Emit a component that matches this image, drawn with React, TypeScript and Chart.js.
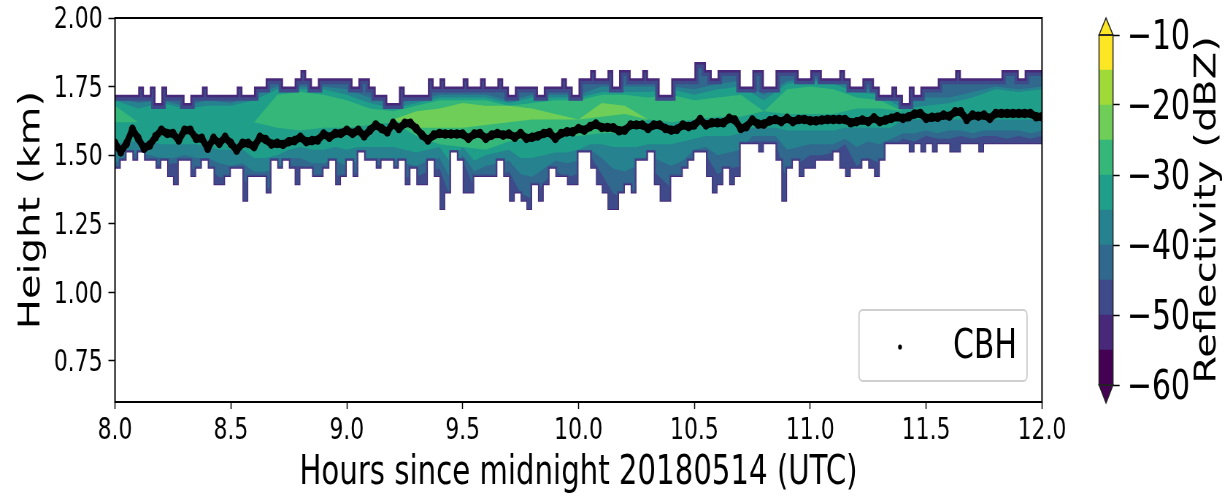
import React, { useEffect, useRef } from "react";
import { Chart, registerables } from "chart.js";

Chart.register(...registerables);

const SQUEEZE = 0.73;
const W = Math.round(1224 / SQUEEZE);
const H = 498;
const FONT = "'DejaVu Sans'";

const yTicks = [0.75, 1.0, 1.25, 1.5, 1.75, 2.0];
const xTicks = [8, 8.5, 9, 9.5, 10, 10.5, 11, 11.5, 12];
const cbTicks = [-60, -50, -40, -30, -20, -10];

// Outer echo envelope, one value per 0.025 h
const envTop = [
  1.75,1.72,1.72,1.72,1.72,1.75,1.72,1.75,1.69,1.75,
  1.72,1.72,1.72,1.69,1.72,1.72,1.75,1.72,1.72,1.72,
  1.72,1.72,1.75,1.72,1.72,1.75,1.75,1.78,1.78,1.78,
  1.75,1.75,1.78,1.81,1.78,1.75,1.78,1.78,1.78,1.78,
  1.78,1.78,1.75,1.78,1.78,1.75,1.72,1.72,1.69,1.69,
  1.75,1.72,1.72,1.72,1.72,1.78,1.75,1.78,1.75,1.75,
  1.75,1.78,1.75,1.75,1.78,1.75,1.75,1.78,1.75,1.72,
  1.75,1.75,1.75,1.75,1.72,1.75,1.75,1.75,1.78,1.75,
  1.72,1.78,1.78,1.81,1.78,1.78,1.81,1.75,1.81,1.81,
  1.78,1.78,1.81,1.78,1.78,1.72,1.72,1.78,1.78,1.78,
  1.78,1.84,1.84,1.81,1.78,1.81,1.81,1.81,1.81,1.75,
  1.75,1.81,1.81,1.75,1.75,1.81,1.81,1.81,1.81,1.78,
  1.78,1.81,1.81,1.78,1.78,1.78,1.81,1.78,1.75,1.75,
  1.78,1.78,1.75,1.72,1.72,1.75,1.72,1.69,1.75,1.72,
  1.75,1.75,1.75,1.78,1.78,1.78,1.81,1.78,1.78,1.78,
  1.78,1.78,1.78,1.78,1.81,1.81,1.81,1.78,1.81,1.81,1.81,
];
const envBot = [
  1.39,1.45,1.48,1.51,1.48,1.51,1.48,1.48,1.45,1.48,
  1.42,1.39,1.48,1.48,1.42,1.45,1.48,1.45,1.39,1.39,
  1.42,1.45,1.45,1.33,1.42,1.42,1.42,1.36,1.48,1.45,
  1.48,1.45,1.39,1.45,1.45,1.42,1.42,1.45,1.48,1.39,
  1.42,1.48,1.42,1.51,1.48,1.48,1.45,1.48,1.48,1.45,
  1.48,1.39,1.45,1.39,1.39,1.48,1.42,1.30,1.36,1.51,
  1.48,1.36,1.36,1.42,1.42,1.42,1.42,1.48,1.42,1.33,
  1.36,1.33,1.30,1.39,1.33,1.39,1.45,1.42,1.42,1.39,
  1.39,1.51,1.51,1.45,1.39,1.36,1.30,1.30,1.36,1.39,
  1.36,1.48,1.48,1.51,1.39,1.33,1.33,1.42,1.42,1.45,
  1.48,1.51,1.51,1.42,1.36,1.39,1.45,1.39,1.42,1.54,
  1.54,1.54,1.51,1.54,1.54,1.48,1.33,1.45,1.48,1.42,
  1.45,1.45,1.48,1.48,1.48,1.51,1.45,1.42,1.45,1.45,
  1.48,1.45,1.42,1.48,1.54,1.54,1.54,1.54,1.51,1.54,
  1.51,1.54,1.51,1.54,1.54,1.51,1.51,1.54,1.54,1.54,
  1.51,1.54,1.54,1.54,1.54,1.54,1.54,1.54,1.54,1.54,1.54,
];
const cbh = [
  1.543,1.512,1.543,1.594,1.561,1.525,1.537,1.567,1.591,1.579,
  1.579,1.555,1.591,1.591,1.561,1.561,1.525,1.561,1.543,1.565,
  1.543,1.518,1.543,1.543,1.531,1.565,1.557,1.540,1.543,1.539,
  1.549,1.553,1.565,1.549,1.553,1.555,1.577,1.565,1.579,1.579,
  1.591,1.579,1.591,1.570,1.591,1.610,1.597,1.585,1.616,1.597,
  1.616,1.616,1.597,1.573,1.555,1.573,1.579,1.577,1.577,1.577,
  1.577,1.561,1.577,1.579,1.561,1.573,1.579,1.573,1.577,1.565,
  1.579,1.561,1.565,1.570,1.579,1.582,1.561,1.579,1.585,1.585,
  1.597,1.591,1.604,1.613,1.601,1.601,1.600,1.589,1.591,1.610,
  1.610,1.610,1.597,1.610,1.610,1.597,1.591,1.594,1.610,1.604,
  1.610,1.630,1.610,1.618,1.618,1.618,1.634,1.628,1.597,1.604,
  1.628,1.613,1.613,1.625,1.630,1.622,1.634,1.622,1.630,1.630,
  1.625,1.625,1.628,1.630,1.630,1.630,1.630,1.618,1.622,1.628,
  1.622,1.636,1.622,1.628,1.634,1.640,1.634,1.640,1.650,1.652,
  1.634,1.638,1.638,1.646,1.642,1.658,1.658,1.630,1.646,1.642,
  1.646,1.634,1.652,1.652,1.652,1.652,1.652,1.652,1.652,1.640,1.640,
];

// Upper edges of the inner contour bands, one value per 0.1 h
const c2Top = [1.75,1.75,1.75,1.72,1.75,1.75,1.75,1.78,1.81,1.78,1.78,1.78,1.75,1.75,1.78,1.78,1.78,1.78,1.75,1.75,1.78,1.81,1.81,1.81,1.78,1.84,1.84,1.81,1.81,1.81,1.81,1.81,1.81,1.78,1.75,1.75,1.78,1.81,1.81,1.81,1.81];
const c3Top = [1.71,1.69,1.70,1.68,1.70,1.69,1.72,1.75,1.75,1.75,1.74,1.71,1.69,1.70,1.72,1.72,1.72,1.70,1.72,1.72,1.72,1.75,1.75,1.75,1.75,1.74,1.76,1.77,1.72,1.77,1.78,1.77,1.75,1.73,1.69,1.71,1.71,1.73,1.75,1.74,1.75];
const c4Top = [1.70,1.67,1.69,1.67,1.68,1.68,1.70,1.74,1.74,1.74,1.72,1.69,1.67,1.69,1.71,1.71,1.71,1.69,1.71,1.71,1.71,1.73,1.73,1.73,1.74,1.72,1.74,1.75,1.70,1.76,1.77,1.76,1.73,1.72,1.67,1.68,1.69,1.71,1.74,1.73,1.74];
// Lower edges of the same bands, one value per 0.05 h
const c2Bot = [1.43,1.47,1.49,1.48,1.46,1.47,1.47,1.44,1.45,1.42,1.42,1.42,1.36,1.38,1.38,1.46,1.46,1.42,1.43,1.43,1.41,1.44,1.47,1.46,1.47,1.42,1.42,1.44,1.45,1.34,1.48,1.38,1.42,1.42,1.44,1.36,1.34,1.40,1.44,1.42,1.43,1.50,1.43,1.36,1.34,1.38,1.46,1.42,1.38,1.42,1.48,1.50,1.43,1.45,1.46,1.55,1.55,1.55,1.40,1.47,1.50,1.50,1.51,1.54,1.46,1.49,1.47,1.53,1.56,1.55,1.57,1.56,1.56,1.57,1.56,1.57,1.57,1.56,1.57,1.56,1.57];
const c3Bot = [1.47,1.50,1.51,1.50,1.49,1.49,1.50,1.49,1.49,1.47,1.46,1.47,1.44,1.44,1.45,1.49,1.49,1.47,1.47,1.48,1.46,1.48,1.49,1.49,1.49,1.47,1.46,1.48,1.49,1.41,1.50,1.44,1.46,1.47,1.48,1.43,1.42,1.45,1.48,1.47,1.48,1.52,1.49,1.45,1.44,1.46,1.50,1.48,1.46,1.48,1.52,1.53,1.50,1.51,1.52,1.57,1.57,1.57,1.52,1.53,1.54,1.54,1.54,1.56,1.53,1.55,1.54,1.56,1.58,1.58,1.59,1.58,1.59,1.59,1.58,1.59,1.59,1.59,1.59,1.58,1.59];
const c4Bot = [1.54,1.55,1.55,1.55,1.54,1.54,1.54,1.54,1.53,1.52,1.52,1.52,1.49,1.49,1.50,1.52,1.53,1.52,1.52,1.53,1.52,1.53,1.53,1.53,1.53,1.52,1.51,1.52,1.53,1.47,1.53,1.48,1.50,1.51,1.52,1.49,1.49,1.50,1.51,1.51,1.52,1.54,1.54,1.53,1.53,1.53,1.54,1.54,1.54,1.55,1.56,1.57,1.57,1.57,1.58,1.60,1.60,1.60,1.59,1.59,1.59,1.59,1.59,1.60,1.60,1.60,1.60,1.60,1.63,1.63,1.63,1.63,1.63,1.63,1.63,1.63,1.63,1.63,1.63,1.63,1.63];
// Green cores, one value per 0.1 h
const c5Top = [1.68,1.62,1.62,1.62,1.62,1.62,1.62,1.72,1.73,1.72,1.70,1.67,1.66,1.68,1.70,1.70,1.70,1.68,1.69,1.70,1.70,1.72,1.72,1.71,1.72,1.70,1.71,1.72,1.66,1.74,1.75,1.74,1.71,1.70,1.66,1.66,1.66,1.66,1.66,1.66,1.66];
const c5Bot = [1.62,1.62,1.62,1.62,1.62,1.62,1.62,1.60,1.59,1.60,1.60,1.61,1.62,1.57,1.54,1.53,1.52,1.55,1.56,1.57,1.57,1.58,1.58,1.63,1.62,1.63,1.64,1.64,1.66,1.65,1.65,1.65,1.67,1.67,1.66,1.66,1.66,1.66,1.66,1.66,1.66];
const c6Top = [1.63,1.63,1.63,1.63,1.63,1.63,1.63,1.63,1.63,1.63,1.63,1.63,1.63,1.66,1.67,1.69,1.68,1.68,1.67,1.65,1.63,1.69,1.68,1.63,1.63,1.63,1.63,1.63,1.63,1.63,1.63,1.63,1.63,1.63,1.63,1.63,1.63,1.63,1.63,1.63,1.63];
const c6Bot = [1.63,1.63,1.63,1.63,1.63,1.63,1.63,1.63,1.63,1.63,1.63,1.63,1.63,1.60,1.60,1.60,1.61,1.62,1.63,1.63,1.63,1.64,1.65,1.63,1.63,1.63,1.63,1.63,1.63,1.63,1.63,1.63,1.63,1.63,1.63,1.63,1.63,1.63,1.63,1.63,1.63];

const cbEdges = [-60, -55, -50, -45, -40, -35, -30, -25, -20, -15, -10];
const cbColors = ["#440154", "#482878", "#3e4a89", "#31688e", "#26828e", "#1f9e89", "#35b779", "#6ece58", "#a0da39", "#fde725"];

const fine = (i: number) => 8 + i * 0.025;
const half = (i: number) => 8 + i * 0.05;
const coarse = (i: number) => 8 + i * 0.1;
const pts = (arr: number[], xf: (i: number) => number) => arr.map((y, i) => ({ x: xf(i), y }));

function bandPair(top: number[], bot: number[], color: string, order: number, xfTop: (i: number) => number, xfBot: (i: number) => number, stepped: any) {
  const base = { type: "line" as const, pointRadius: 0, borderWidth: 0, stepped, order, tension: 0 };
  return [
    { ...base, label: "", data: pts(top, xfTop), fill: "+1", backgroundColor: color, borderColor: color },
    { ...base, label: "", data: pts(bot, xfBot), fill: false, backgroundColor: color, borderColor: color },
  ];
}

function edge(arr: number[], color: string, width: number, order: number) {
  return {
    type: "line" as const, label: "", data: pts(arr, fine), fill: false, pointRadius: 0,
    borderWidth: width, borderColor: color, stepped: "after", order, borderJoinStyle: "miter",
  };
}

const shiftLabels = (dy: number) => (s: any) => {
  const orig = s.getLabelItems.bind(s);
  s.getLabelItems = (area: any) => {
    const items = orig(area);
    items.forEach((it: any) => { it.textOffset = dy; });
    return items;
  };
};

const frame = {
  id: "frame",
  afterDatasetsDraw(chart: any) {
    const { ctx, chartArea: a } = chart;
    ctx.save();
    ctx.strokeStyle = "#000";
    ctx.lineWidth = 2;
    ctx.strokeRect(a.left, a.top, a.right - a.left, a.bottom - a.top);
    // legend box, inside the axes
    const x0 = 859 / SQUEEZE, x1 = 1027 / SQUEEZE, y0 = 310, y1 = 381;
    ctx.beginPath();
    ctx.roundRect(x0, y0, x1 - x0, y1 - y0, 5);
    ctx.fillStyle = "rgba(255,255,255,0.9)";
    ctx.fill();
    ctx.strokeStyle = "#cfcfcf";
    ctx.lineWidth = 2;
    ctx.stroke();
    ctx.fillStyle = "#000";
    ctx.beginPath();
    ctx.arc(900 / SQUEEZE, 347, 2.6, 0, Math.PI * 2);
    ctx.fill();
    ctx.font = `41px ${FONT}`;
    ctx.textAlign = "left";
    ctx.textBaseline = "alphabetic";
    ctx.fillText("CBH", 953 / SQUEEZE, 358);
    ctx.restore();
  },
};

const cbFrame = {
  id: "cbFrame",
  afterDatasetsDraw(chart: any) {
    const { ctx, chartArea: a } = chart;
    ctx.save();
    ctx.lineWidth = 1.5;
    ctx.strokeStyle = "#222";
    const mid = (a.left + a.right) / 2;
    const tri = (yBase: number, yTip: number, c: string) => {
      ctx.beginPath();
      ctx.moveTo(a.left, yBase);
      ctx.lineTo(mid, yTip);
      ctx.lineTo(a.right, yBase);
      ctx.closePath();
      ctx.fillStyle = c;
      ctx.fill();
      ctx.stroke();
    };
    tri(a.top, 18, cbColors[cbColors.length - 1]);
    tri(a.bottom, 403, cbColors[0]);
    ctx.strokeRect(a.left, a.top, a.right - a.left, a.bottom - a.top);
    // colour bar label reads upward on the right-hand side
    ctx.translate(1208 / SQUEEZE, (a.top + a.bottom) / 2);
    ctx.rotate(-Math.PI / 2);
    ctx.fillStyle = "#000";
    ctx.font = `40px ${FONT}`;
    ctx.textAlign = "center";
    ctx.textBaseline = "middle";
    ctx.fillText("Reflectivity (dBZ)", 0, 0);
    ctx.restore();
  },
};

export default function App() {
  const mainRef = useRef<HTMLCanvasElement>(null);
  const cbRef = useRef<HTMLCanvasElement>(null);

  useEffect(() => {
    const main = new Chart(mainRef.current!, {
      type: "line",
      plugins: [frame],
      data: {
        datasets: [
          {
            type: "line",
            label: "CBH",
            data: pts(cbh, fine),
            showLine: true,
            borderColor: "#000",
            borderWidth: 8,
            borderJoinStyle: "round",
            borderCapStyle: "round",
            pointRadius: 4.8,
            pointBorderWidth: 0,
            pointBackgroundColor: "#000",
            order: 0,
          },
          { type: "line", label: "", data: pts(envTop, fine), fill: "end", backgroundColor: "#fff", pointRadius: 0, borderWidth: 0, stepped: "after", order: 1 },
          { type: "line", label: "", data: pts(envBot, fine), fill: "start", backgroundColor: "#fff", pointRadius: 0, borderWidth: 0, stepped: "after", order: 1 },
          edge(envTop, cbColors[1], 5, 2),
          edge(envBot, cbColors[1], 2, 2),
          edge(envTop, cbColors[2], 12, 3),
          edge(envBot, cbColors[2], 5, 3),
          ...bandPair(c6Top, c6Bot, cbColors[7], 4, coarse, coarse, false),
          ...bandPair(c5Top, c5Bot, cbColors[6], 5, coarse, coarse, false),
          ...bandPair(c4Top, c4Bot, cbColors[5], 6, coarse, half, false),
          ...bandPair(c3Top, c3Bot, cbColors[4], 7, coarse, half, false),
          ...bandPair(c2Top, c2Bot, cbColors[3], 8, coarse, half, false),
          ...bandPair(envTop, envBot, cbColors[2], 9, fine, fine, "after"),
        ] as any,
      },
      options: {
        responsive: false,
        animation: false,
        devicePixelRatio: 1,
        layout: { padding: { top: 18, right: W - 1042 / SQUEEZE, bottom: 0, left: 0 } },
        plugins: { legend: { display: false }, tooltip: { enabled: false } },
        scales: {
          x: {
            type: "linear",
            min: 8,
            max: 12,
            afterBuildTicks: (s: any) => { s.ticks = xTicks.map((value) => ({ value })); },
            afterFit: (s: any) => { s.height = 96; s.paddingLeft = 0; s.paddingRight = 0; },
            grid: { drawOnChartArea: false, tickLength: 7, tickColor: "#000", tickWidth: 1.5, color: "#000" },
            border: { display: false },
            ticks: { autoSkip: false, maxRotation: 0, padding: 4, color: "#000", font: { family: FONT, size: 30 }, callback: (v: any) => Number(v).toFixed(1) },
            title: { display: true, text: "Hours since midnight 20180514 (UTC)", color: "#000", font: { family: FONT, size: 40 }, padding: 0 },
          },
          y: {
            type: "linear",
            min: 0.6,
            max: 2,
            afterBuildTicks: (s: any) => { s.ticks = yTicks.map((value) => ({ value })); },
            afterFit: (s: any) => { s.width = 115 / SQUEEZE; s.paddingTop = 0; s.paddingBottom = 0; },
            afterUpdate: shiftLabels(2.5),
            grid: { drawOnChartArea: false, tickLength: 9, tickColor: "#000", tickWidth: 1.5, color: "#000" },
            border: { display: false },
            ticks: { autoSkip: false, padding: 8, color: "#000", font: { family: FONT, size: 30 }, callback: (v: any) => Number(v).toFixed(2) },
            title: { display: true, text: "Height (km)", color: "#000", font: { family: FONT, size: 40 }, padding: { top: 20, bottom: 0 } },
          },
        },
      },
    });

    const cb = new Chart(cbRef.current!, {
      type: "bar",
      plugins: [cbFrame],
      data: {
        labels: ["dBZ"],
        datasets: cbColors.map((c, i) => ({
          label: String(cbEdges[i]),
          data: [[cbEdges[i], cbEdges[i + 1]]],
          backgroundColor: c,
          borderWidth: 0,
          barPercentage: 1,
          categoryPercentage: 1,
        })) as any,
      },
      options: {
        responsive: false,
        animation: false,
        devicePixelRatio: 1,
        layout: { padding: { top: 35, bottom: H - 385, left: 1099 / SQUEEZE, right: 0 } },
        plugins: { legend: { display: false }, tooltip: { enabled: false } },
        scales: {
          x: { display: false, stacked: true },
          y: {
            position: "right",
            type: "linear",
            min: -60,
            max: -10,
            afterBuildTicks: (s: any) => { s.ticks = cbTicks.map((value) => ({ value })); },
            afterFit: (s: any) => { s.width = W - 1113 / SQUEEZE; s.paddingTop = 0; s.paddingBottom = 0; },
            afterUpdate: shiftLabels(3),
            grid: { drawOnChartArea: false, tickLength: 9, tickColor: "#000", tickWidth: 1.5, color: "#000" },
            border: { display: false },
            ticks: { autoSkip: false, padding: 10, color: "#000", font: { family: FONT, size: 41 }, callback: (v: any) => "\u2212" + Math.abs(Number(v)) },
          },
        },
      },
    });

    return () => { main.destroy(); cb.destroy(); };
  }, []);

  const canvasStyle: React.CSSProperties = {
    position: "absolute",
    left: 0,
    top: 0,
    transformOrigin: "0 0",
    transform: `scale(${SQUEEZE}, 1)`,
  };
  return (
    <div style={{ position: "absolute", left: 0, top: 0, width: 1224, height: 498, overflow: "hidden", background: "#fff" }}>
      <canvas ref={mainRef} width={W} height={H} style={canvasStyle} />
      <canvas ref={cbRef} width={W} height={H} style={canvasStyle} />
    </div>
  );
}
